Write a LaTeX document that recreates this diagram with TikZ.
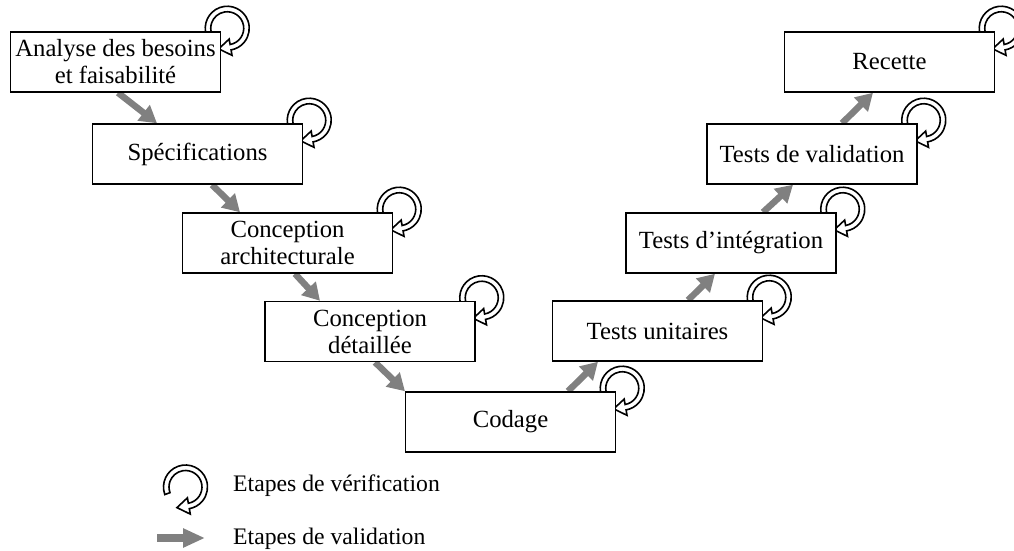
\documentclass[tikz,border=0pt]{standalone}
\usepackage{fontspec}
\setmainfont{Liberation Serif}
\usetikzlibrary{arrows.meta,calc,backgrounds}
\definecolor{vgray}{RGB}{128,128,128}
\tikzset{
  stepbox/.style={draw=black, line width=1.5pt, fill=white, minimum width=210pt, minimum height=60pt,
    align=center, inner sep=0pt, font=\fontsize{24.7}{27}\selectfont},
  varrow/.style={draw=vgray, line width=6.5pt, -{Triangle[length=17pt,width=19pt]}},
  legarrow/.style={draw=vgray, line width=8pt, -{Triangle[length=22pt,width=18pt]}},
  legtext/.style={anchor=west, inner sep=0pt, font=\fontsize{23.7}{26}\selectfont},
  loopline/.style={draw=black, fill=white, line width=1.6pt, line join=miter},
  vloop/.pic={
    \draw[loopline] (160:22) arc[start angle=160,end angle=440,radius=22]
      -- (440:27.5) -- ($(440:19.25)+(532:12)$) -- (440:11) -- (440:16.5)
      arc[start angle=440,end angle=160,radius=16.5] -- cycle;
  }
}
\begin{document}
\begin{tikzpicture}[x=1pt,y=-1pt]
\useasboundingbox (0,0) rectangle (1014,551);
\node[stepbox] (a) at (115.5,62) {Analyse des besoins\\et faisabilité};
\node[stepbox] (b) at (197.5,154) {Spécifications};
\node[stepbox] (c) at (287.5,243) {Conception\\architecturale};
\node[stepbox] (d) at (370,331.5) {Conception\\détaillée};
\node[stepbox] (e) at (510.5,422) {Codage};
\node[stepbox] (f) at (657.5,331) {Tests unitaires};
\node[stepbox] (g) at (731,243) {Tests d’intégration};
\node[stepbox] (h) at (812,154) {Tests de validation};
\node[stepbox] (i) at (889.5,62) {Recette};
\begin{scope}[on background layer]
  \foreach \n in {a,b,c,d,e,f,g,h,i}
    \pic at ([shift={(6,-3)}]\n.north east) {vloop};
  \draw[varrow] ([xshift=2.5pt]a.south) -- ([xshift=-40.5pt]b.north);
  \draw[varrow] ([xshift=14.5pt]b.south) -- ([xshift=-47.5pt]c.north);
  \draw[varrow] ([xshift=7.5pt]c.south) -- ([xshift=-50pt]d.north);
  \draw[varrow] ([xshift=5pt]d.south) -- ([xshift=-105.5pt]e.north);
  \draw[varrow] ([xshift=57.5pt]e.north) -- ([xshift=-59.5pt]f.south);
  \draw[varrow] ([xshift=30.5pt]f.north) -- ([xshift=-16pt]g.south);
  \draw[varrow] ([xshift=32pt]g.north) -- ([xshift=-19pt]h.south);
  \draw[varrow] ([xshift=30pt]h.north) -- ([xshift=-16.5pt]i.south);
\end{scope}
% legend
\coordinate (lv) at (185.5,487);
\pic at (lv) {vloop};
\node[legtext] (tv) at (233,486) {Etapes de vérification};
\coordinate (la1) at (157,538);
\coordinate (la2) at (205,538);
\draw[legarrow] (la1) -- (la2);
\node[legtext] (ta) at (233,539) {Etapes de validation};
\end{tikzpicture}
\end{document}
